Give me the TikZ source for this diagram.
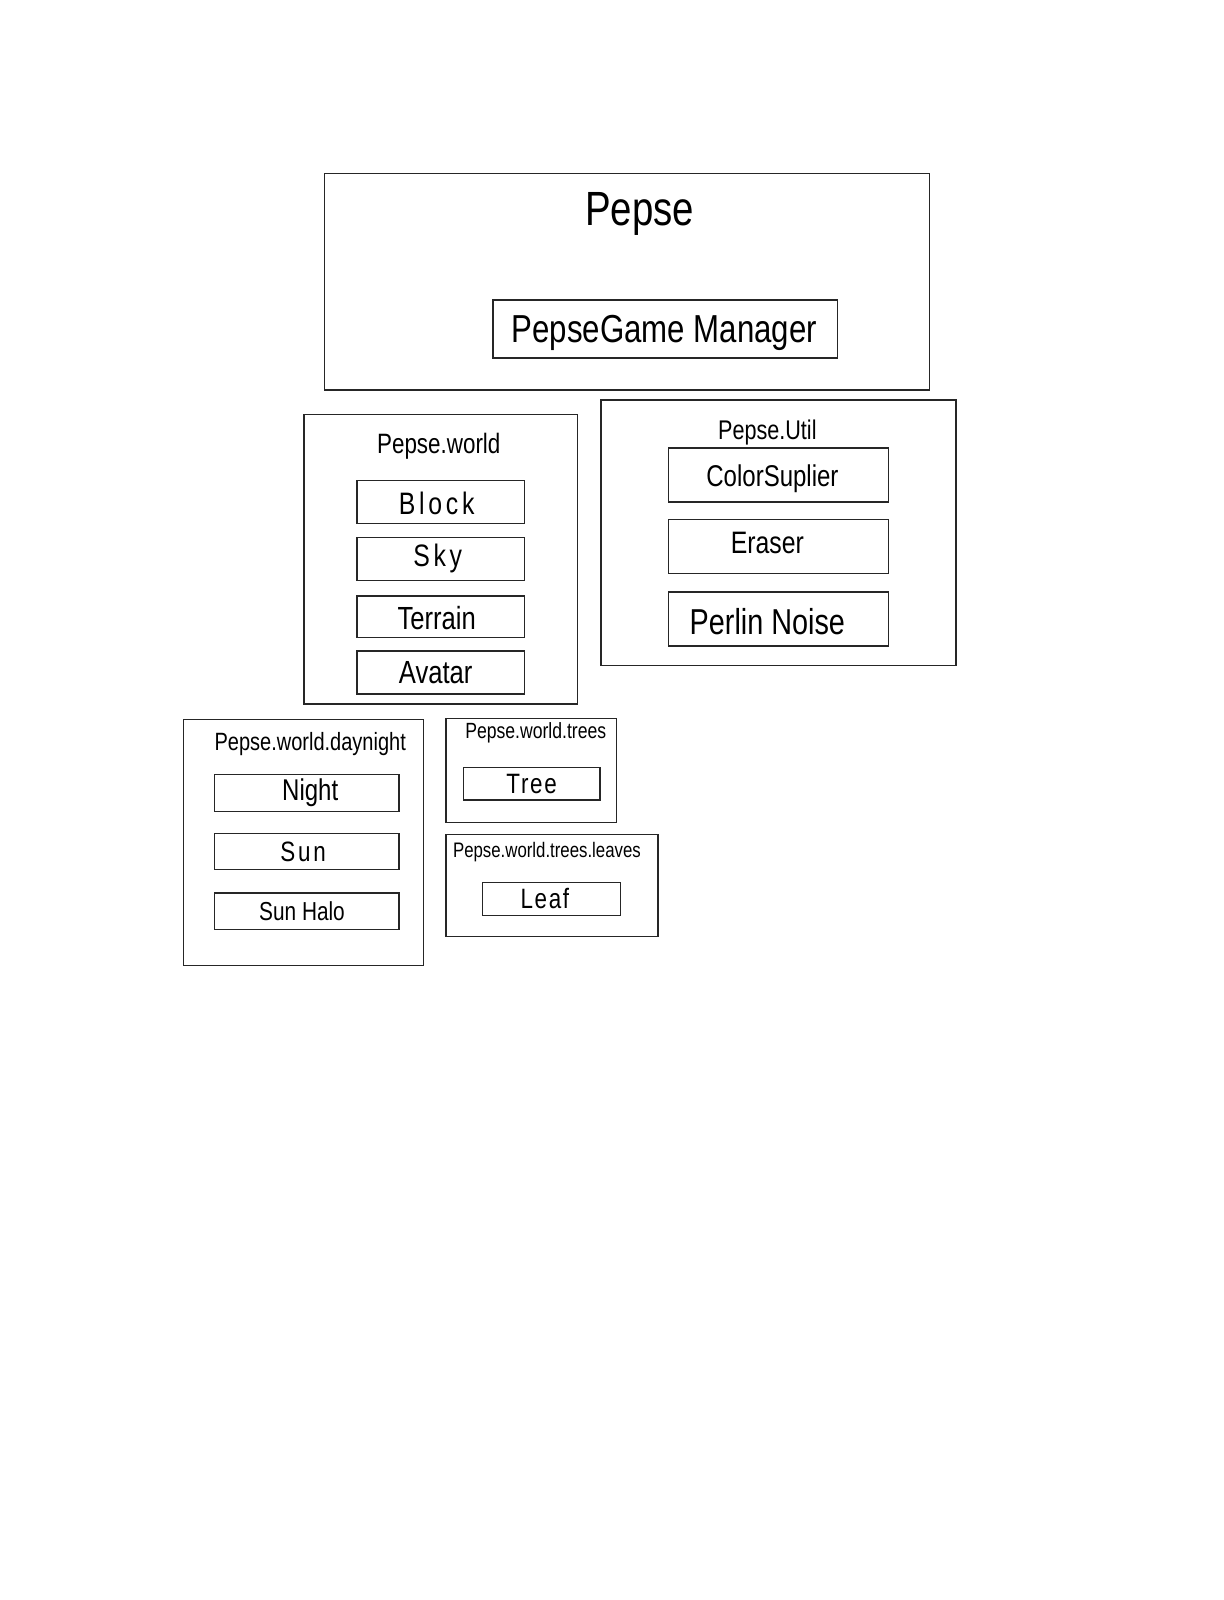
\documentclass[tikz,border=0pt]{standalone}
\usepackage{fontspec}
\setmainfont{Liberation Sans}
% narrow, tall lettering for all labels
\newfontfamily\handfont[FakeStretch=0.8]{Liberation Sans}
\newcommand\handsize[1]{\fontsize{#1}{#1}\selectfont\handfont}
\usetikzlibrary{fit}
\begin{document}
\begin{tikzpicture}[x=1.02pt,y=-1.02pt,
  frame/.style={draw=black!85, line width=1.4pt, inner sep=0pt, fit={#1}},
  txt/.style={inner sep=0pt, text=black, font={\handsize{#1}}}]
\fill[white] (0,0) rectangle (1199,1568);
\useasboundingbox (0,0) rectangle (1199,1568);

% top-level package
\node[frame={(318,170) (911,382)}] (pepse) {};
\node[txt=48] (pepseT) at (627,210) {Pepse};
\node[frame={(483,294) (821,351)}] (gm) {};
\node[txt=39] (gmT) at (651,326) {PepseGame Manager};

% Pepse.world
\node[frame={(298,406) (566,690)}] (world) {};
\node[txt=28] (worldT) at (430,437) {Pepse.world};
\node[frame={(350,471) (514,513)}] (block) {};
\node[txt=31] (blockT) at (428,493) {\addfontfeature{LetterSpace=12}Block};
\node[frame={(350,527) (514,569)}] (sky) {};
\node[txt=31] (skyT) at (429,547) {\addfontfeature{LetterSpace=12}Sky};
\node[frame={(350,584) (514,625)}] (terrain) {};
\node[txt=32] (terrainT) at (428,606) {Terrain};
\node[frame={(350,638) (514,680)}] (avatar) {};
\node[txt=32] (avatarT) at (427,659) {Avatar};

% Pepse.Util
\node[frame={(589,392) (937,652)}] (util) {};
\node[txt=27] (utilT) at (752,424) {Pepse.Util};
\node[frame={(655,439) (871,492)}] (color) {};
\node[txt=30] (colorT) at (757,469) {ColorSuplier};
\node[frame={(655,509) (871,562)}] (eraser) {};
\node[txt=31] (eraserT) at (752,532) {Eraser};
\node[frame={(655,580) (871,633)}] (perlin) {};
\node[txt=36] (perlinT) at (752,609) {Perlin Noise};

% Pepse.world.daynight
\node[frame={(180,705) (415,946)}] (daynight) {};
\node[txt=25] (daynightT) at (304,729) {Pepse.world.daynight};
\node[frame={(210,759) (391,795)}] (night) {};
\node[txt=30] (nightT) at (304,777) {Night};
\node[frame={(210,817) (391,852)}] (sun) {};
\node[txt=28] (sunT) at (297,835) {\addfontfeature{LetterSpace=10}Sun};
\node[frame={(210,875) (391,911)}] (halo) {};
\node[txt=26] (haloT) at (296,893) {Sun Halo};

% Pepse.world.trees
\node[frame={(437,704) (604,806)}] (trees) {};
\node[txt=22] (treesT) at (525,718) {Pepse.world.trees};
\node[frame={(454,752) (588,784)}] (tree) {};
\node[txt=28] (treeT) at (521,768) {\addfontfeature{LetterSpace=6}Tree};
\node[frame={(437,818) (645,918)}] (leaves) {};
\node[txt=21] (leavesT) at (536,835) {Pepse.world.trees.leaves};
\node[frame={(473,865) (608,897)}] (leaf) {};
\node[txt=28] (leafT) at (534,881) {\addfontfeature{LetterSpace=6}Leaf};
\end{tikzpicture}
\end{document}
